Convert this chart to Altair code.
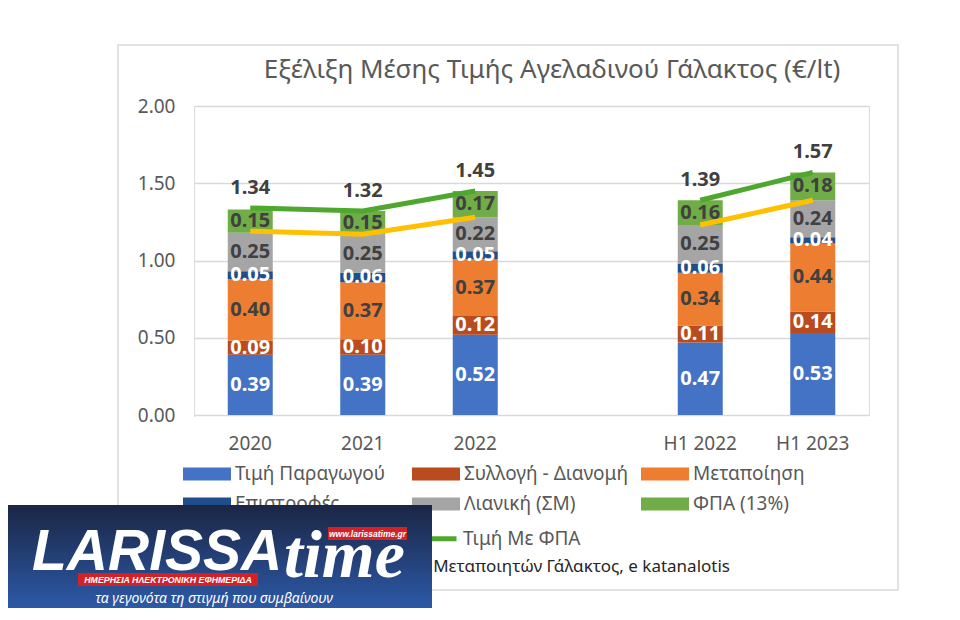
import altair as alt
import pandas as pd

FONT = "Noto Sans"

categories = ["2020", "2021", "2022", " ", "H1 2022", "H1 2023"]
bar_cats = ["2020", "2021", "2022", "H1 2022", "H1 2023"]
periods = ["annual", "annual", "annual", "half", "half"]

series = ["Τιμή Παραγωγού", "Συλλογή - Διανομή", "Μεταποίηση",
          "Επιστροφές", "Λιανική (ΣΜ)", "ΦΠΑ (13%)"]
series_colors = ["#4472C4", "#B94B1E", "#ED7D31", "#1F4E8A", "#A5A5A5", "#70AD47"]
white_label_series = ["Τιμή Παραγωγού", "Συλλογή - Διανομή", "Επιστροφές"]

producer = [0.39, 0.39, 0.52, 0.47, 0.53]
collection = [0.09, 0.10, 0.12, 0.11, 0.14]
processing = [0.40, 0.37, 0.37, 0.34, 0.44]
returns = [0.05, 0.06, 0.05, 0.06, 0.04]
retail = [0.25, 0.25, 0.22, 0.25, 0.24]
vat = [0.15, 0.15, 0.17, 0.16, 0.18]

totals = [1.34, 1.32, 1.45, 1.39, 1.57]

line_series = ["Τιμή Χωρίς ΦΠΑ", "Τιμή Με ΦΠΑ"]
line_colors = ["#FFC000", "#4EA72E"]
price_no_vat = [1.19, 1.17, 1.28, 1.23, 1.39]
price_vat = [1.34, 1.32, 1.45, 1.39, 1.57]

title_text = "Εξέλιξη Μέσης Τιμής Αγελαδινού Γάλακτος (€/lt)"
source_text = "Μεταποιητών Γάλακτος, e katanalotis"

# ---- tables built from the arrays ----
seg_values = [producer, collection, processing, returns, retail, vat]
bars_rows = []
for i, c in enumerate(bar_cats):
    for j, s in enumerate(series):
        bars_rows.append({"cat": c, "series": s, "idx": j, "value": seg_values[j][i]})
bars_df = pd.DataFrame(bars_rows)

totals_df = pd.DataFrame({"cat": bar_cats, "total": totals})

line_rows = []
for k, (s, vals) in enumerate(zip(line_series, [price_no_vat, price_vat])):
    for i, c in enumerate(bar_cats):
        line_rows.append({"cat": c, "series": s, "value": vals[i], "group": s + periods[i]})
lines_df = pd.DataFrame(line_rows)

dummy = pd.DataFrame({"d": [0]})

# ---- shared encodings ----
x_enc = alt.X(
    "cat:N",
    scale=alt.Scale(domain=categories, paddingInner=0.6, paddingOuter=0.3),
    axis=alt.Axis(title=None, labelAngle=0, ticks=False, domain=False, labelPadding=19,
                  labelFont=FONT, labelFontSize=19, labelColor="#595959", grid=False),
)
y_scale = alt.Scale(domain=[0, 2], nice=False, zero=True)
y_axis = alt.Axis(title=None, values=[0, 0.5, 1, 1.5, 2], format=".2f", ticks=False, domain=False,
                  labelPadding=19, labelFont=FONT, labelFontSize=19, labelColor="#595959",
                  grid=True, gridColor="#D9D9D9", gridWidth=1.5)


def yq(field):
    return alt.Y(field, scale=y_scale, axis=y_axis, stack=None)


frame = alt.Chart(dummy).mark_rect(fill="transparent", stroke="#D9D9D9", strokeWidth=1.5).encode(
    x=alt.value(-76), x2=alt.value(704), y=alt.value(-61), y2=alt.value(484)
)

title = alt.Chart(dummy).mark_text(
    font=FONT, fontSize=26, color="#595959", align="center", baseline="middle"
).encode(x=alt.value(358), y=alt.value(-36), text=alt.value(title_text))

bars = alt.Chart(bars_df).mark_bar().encode(
    x=x_enc,
    y=alt.Y("value:Q", scale=y_scale, axis=y_axis, stack="zero"),
    color=alt.Color(
        "series:N",
        scale=alt.Scale(domain=series, range=series_colors),
        legend=alt.Legend(
            title=None, orient="none", legendX=-11, legendY=356, direction="horizontal",
            columns=3, gridAlign="all", columnPadding=12, rowPadding=8,
            symbolType="M-1,-0.55H3V0.55H-1Z", symbolSize=576, symbolStrokeWidth=0,
            labelOffset=28, labelFont=FONT, labelFontSize=19, labelColor="#595959",
            labelLimit=400, padding=0,
        ),
    ),
    order=alt.Order("idx:Q", sort="ascending"),
)

lines = alt.Chart(lines_df).mark_line(strokeWidth=5).encode(
    x=x_enc,
    y=yq("value:Q"),
    stroke=alt.Stroke(
        "series:N",
        scale=alt.Scale(domain=line_series, range=line_colors),
        legend=alt.Legend(
            title=None, orient="none", legendX=-11, legendY=418, direction="horizontal",
            columns=2, columnPadding=13,
            symbolType="M-1,0H3", symbolSize=576, symbolStrokeWidth=5,
            labelOffset=28, labelFont=FONT, labelFontSize=19, labelColor="#595959",
            labelLimit=400, padding=0,
        ),
    ),
    detail="group:N",
)

seg_labels = (
    alt.Chart(bars_df)
    .transform_stack(stack="value", groupby=["cat"], as_=["v0", "v1"],
                     sort=[alt.SortField("idx", order="ascending")])
    .transform_calculate(mid="(datum.v0 + datum.v1) / 2")
    .mark_text(font=FONT, fontSize=20, fontWeight="bold", baseline="middle")
    .encode(
        x=x_enc,
        y=yq("mid:Q"),
        text=alt.Text("value:Q", format=".2f"),
        color=alt.condition(
            alt.FieldOneOfPredicate(field="series", oneOf=white_label_series),
            alt.value("white"), alt.value("#404040"),
        ),
    )
)

total_labels = alt.Chart(totals_df).mark_text(
    font=FONT, fontSize=20, fontWeight="bold", color="#404040", dy=-20, baseline="middle"
).encode(x=x_enc, y=yq("total:Q"), text=alt.Text("total:Q", format=".2f"))

source = alt.Chart(dummy).mark_text(
    font=FONT, fontSize=17, color="#262626", align="right", baseline="middle"
).encode(x=alt.value(536), y=alt.value(461), text=alt.value(source_text))

main = alt.layer(frame, title, bars, lines, seg_labels, total_labels, source).properties(
    width=675, height=309,
)

# ---- overlaid site logo (drawn after the chart so it covers it) ----
logo_grad = alt.LinearGradient(
    gradient="linear",
    stops=[alt.GradientStop(color="#1B2644", offset=0), alt.GradientStop(color="#2D5DAE", offset=1)],
    x1=0, x2=0, y1=0, y2=1,
)
lb = alt.Chart(dummy)
logo_bg = lb.mark_rect(fill=logo_grad).encode(
    x=alt.value(-186), x2=alt.value(238), y=alt.value(90), y2=alt.value(200))
logo_word = lb.mark_text(font="Liberation Sans", fontSize=57, fontWeight="bold", fontStyle="italic",
                         color="white", align="left", baseline="alphabetic").encode(
    x=alt.value(-162), y=alt.value(155), text=alt.value("LARISSA"))
logo_time = lb.mark_text(font="Liberation Serif", fontSize=68, fontWeight="bold", fontStyle="italic",
                         color="white", align="left", baseline="alphabetic").encode(
    x=alt.value(90), y=alt.value(162), text=alt.value("time"))
www_bg = lb.mark_rect(fill="#D42027").encode(
    x=alt.value(134), x2=alt.value(213), y=alt.value(112), y2=alt.value(125))
www_txt = lb.mark_text(font="Liberation Sans", fontSize=8.5, fontWeight="bold", fontStyle="italic",
                       color="white", align="center", baseline="middle").encode(
    x=alt.value(173.5), y=alt.value(118.5), text=alt.value("www.larissatime.gr"))
ban_bg = lb.mark_rect(fill="#D42027").encode(
    x=alt.value(-116), x2=alt.value(64), y=alt.value(158), y2=alt.value(171))
ban_txt = lb.mark_text(font="Liberation Sans", fontSize=8.8, fontWeight="bold", fontStyle="italic",
                       color="white", align="center", baseline="middle").encode(
    x=alt.value(-26), y=alt.value(164.5), text=alt.value("ΗΜΕΡΗΣΙΑ ΗΛΕΚΤΡΟΝΙΚΗ ΕΦΗΜΕΡΙΔΑ"))
slogan = lb.mark_text(font=FONT, fontSize=14, fontStyle="italic", color="white",
                      align="center", baseline="middle").encode(
    x=alt.value(20), y=alt.value(184), text=alt.value("τα γεγονότα τη στιγμή που συμβαίνουν"))

logo = alt.layer(logo_bg, logo_word, logo_time, www_bg, www_txt, ban_bg, ban_txt, slogan).properties(
    width=1, height=1)

chart = (
    alt.vconcat(main, logo, spacing=0, bounds="flush")
    .resolve_scale(color="independent", stroke="independent")
    .resolve_legend(color="independent", stroke="independent")
    .properties(
        autosize=alt.AutoSizeParams(type="none"),
        padding={"left": 186, "top": 98, "right": 754, "bottom": 502},
    )
    .configure_view(stroke=None)
    .configure(background="white")
)

chart.save("out.html", embed_options={"renderer": "svg", "actions": False})
